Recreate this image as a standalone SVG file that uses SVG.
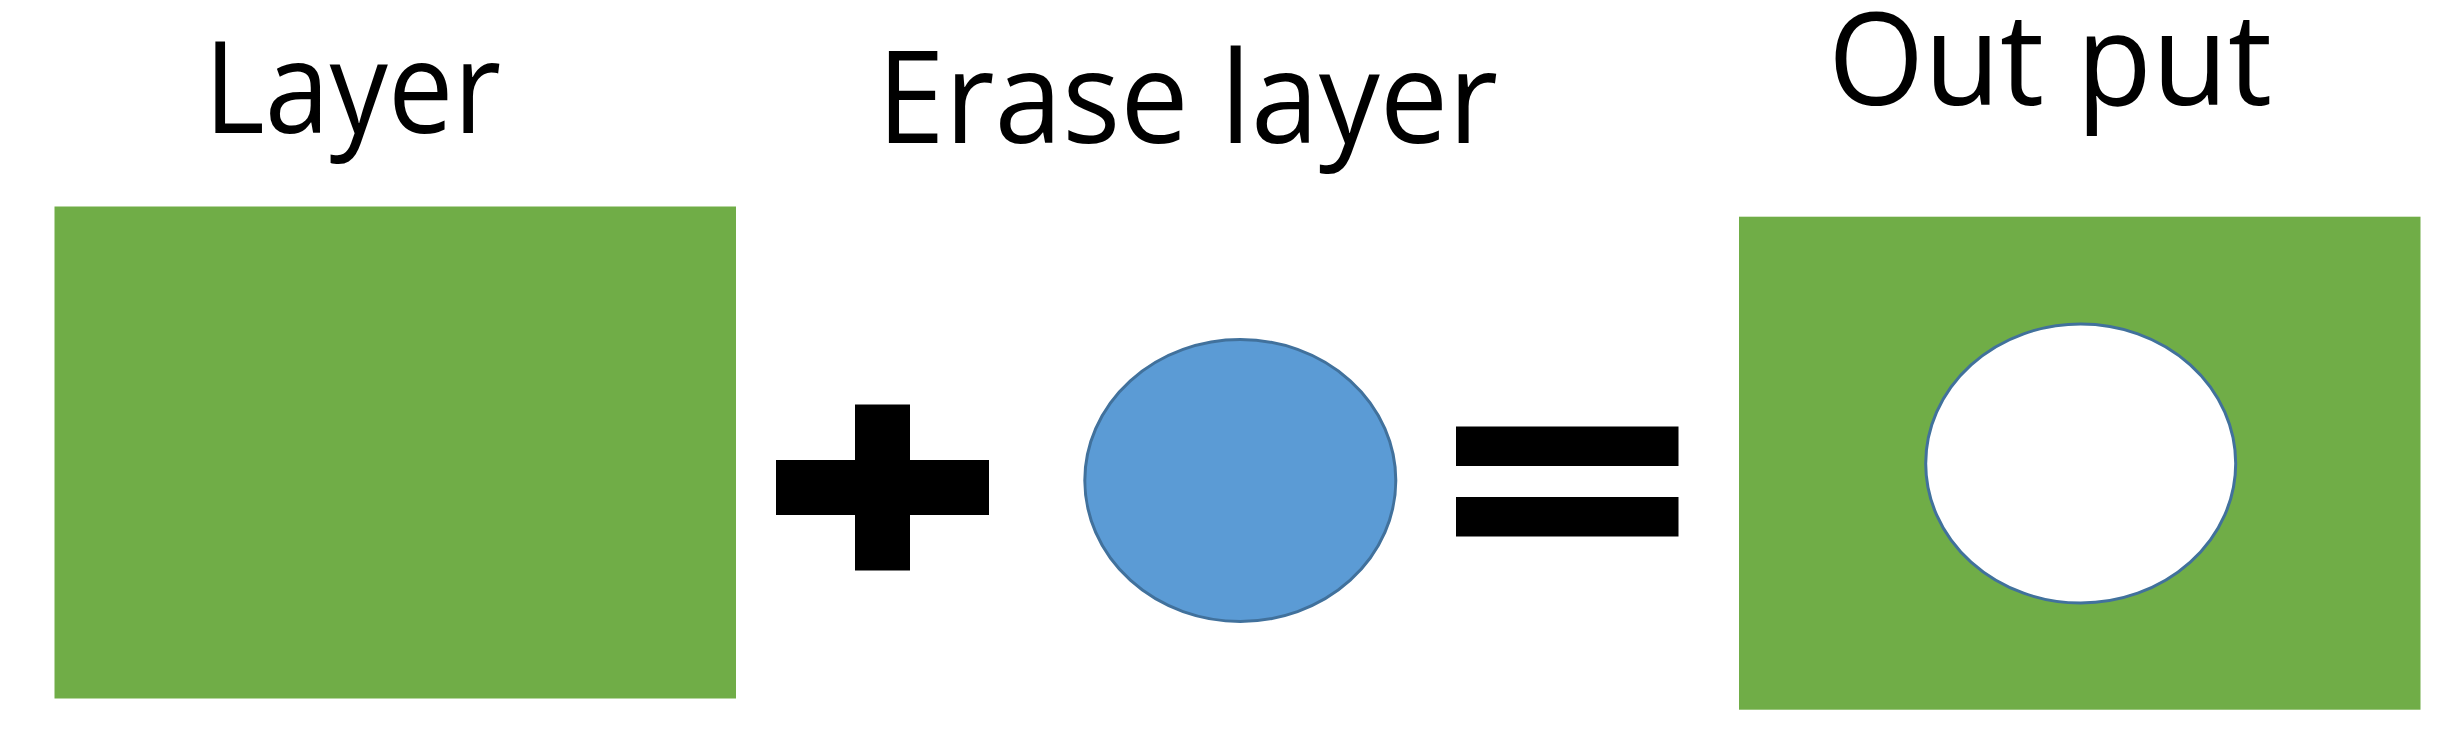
<svg xmlns="http://www.w3.org/2000/svg" width="2445" height="750" viewBox="0 0 2445 750">
<style>
  .lbl { font-family: "Open Sans", "Liberation Sans", sans-serif; font-size: 128px; fill: #000000; }
  .green { fill: #70AD47; }
  .sym { fill: #000000; }
  .ell { stroke: #41719C; stroke-width: 3; }
</style>
<rect width="2445" height="750" fill="#FFFFFF"/>
<g id="layer">
  <text class="lbl" x="204" y="133" textLength="297" lengthAdjust="spacingAndGlyphs">Layer</text>
  <rect class="green" x="54.5" y="206.5" width="681.5" height="492"/>
</g>
<g id="plus">
  <rect class="sym" x="776" y="460" width="213" height="55"/>
  <rect class="sym" x="855" y="404.5" width="55" height="166"/>
</g>
<g id="erase-layer">
  <text class="lbl" x="877" y="143" textLength="621" lengthAdjust="spacingAndGlyphs">Erase layer</text>
  <ellipse class="ell" cx="1240.3" cy="480.5" rx="155.5" ry="141" fill="#5B9BD5"/>
</g>
<g id="equals">
  <rect class="sym" x="1456" y="426.5" width="222.5" height="39.5"/>
  <rect class="sym" x="1456" y="497" width="222.5" height="39.5"/>
</g>
<g id="output">
  <text class="lbl" x="1828" y="104.5" textLength="444" lengthAdjust="spacingAndGlyphs">Out put</text>
  <rect class="green" x="1739" y="216.7" width="681.5" height="493"/>
  <ellipse class="ell" cx="2080.7" cy="463.5" rx="155" ry="139.5" fill="#FFFFFF"/>
</g>
<g id="connectors"/>
</svg>
